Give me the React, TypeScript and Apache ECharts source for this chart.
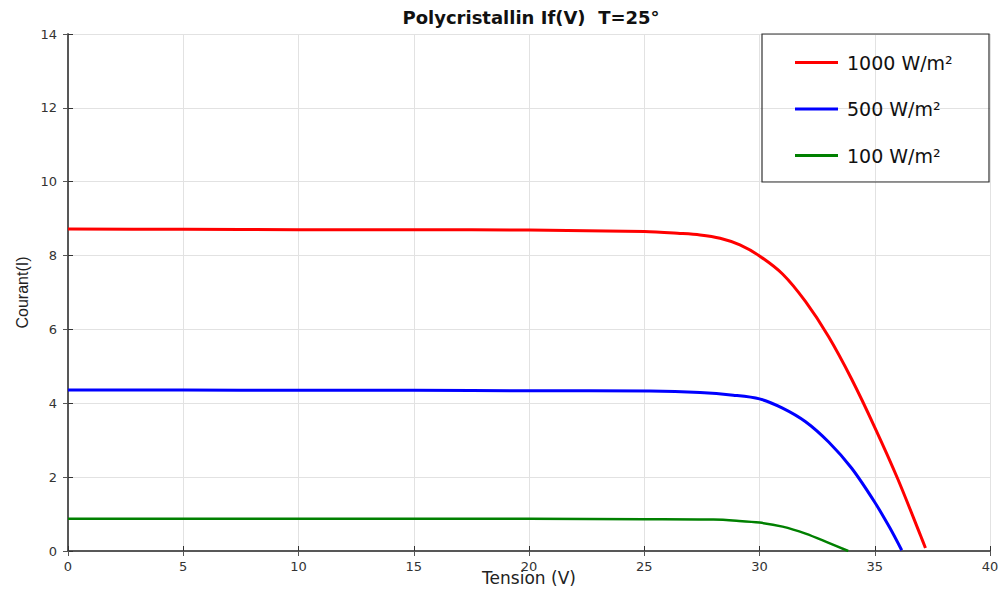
import React, { useEffect, useRef } from "react";
import * as echarts from "echarts";

const seriesNames = ["1000 W/m²", "500 W/m²", "100 W/m²"];
const seriesColors = ["#ff0000", "#0000ff", "#008000"];

const v1000 = [0, 5, 10, 15, 20, 25, 26.55, 27.42, 28.29, 29.15, 30, 31, 32, 33, 34, 35, 36, 37, 37.2];
const i1000 = [8.72, 8.71, 8.7, 8.7, 8.69, 8.65, 8.6, 8.56, 8.47, 8.29, 7.99, 7.5, 6.75, 5.8, 4.65, 3.35, 1.95, 0.4, 0.08];

const v500 = [0, 5, 10, 15, 20, 25.25, 27.42, 28.86, 30, 31, 32, 33, 34, 35, 35.66, 36.17];
const i500 = [4.36, 4.36, 4.35, 4.35, 4.34, 4.33, 4.29, 4.22, 4.12, 3.87, 3.5, 2.95, 2.24, 1.32, 0.62, 0.02];

const v100 = [0, 10, 20, 25, 28, 29, 30, 31, 32, 33, 33.85];
const i100 = [0.87, 0.87, 0.87, 0.86, 0.85, 0.82, 0.77, 0.66, 0.47, 0.22, 0.0];

const xTicks = { min: 0, max: 40, interval: 5 };
const yTicks = { min: 0, max: 14, interval: 2 };

const WIDE = "DejaVu Sans, Verdana, sans-serif";
const ARIAL = "Liberation Sans, Arial, sans-serif";

export default function App() {
  const ref = useRef<HTMLDivElement>(null);
  useEffect(() => {
    if (!ref.current) return;
    document.body.style.margin = "0";
    document.documentElement.style.overflow = "hidden";
    const chart = echarts.init(ref.current, undefined, { renderer: "svg" });
    const pairs = (xs: number[], ys: number[]) => xs.map((x, k) => [x, ys[k]]);
    const dataSets = [pairs(v1000, i1000), pairs(v500, i500), pairs(v100, i100)];
    const widths = [3, 3, 2.5];
    chart.setOption({
      animation: false,
      backgroundColor: "#ffffff",
      title: {
        text: "Polycristallin If(V)  T=25°",
        left: 526,
        textAlign: "center",
        top: 3,
        textStyle: { fontFamily: WIDE, fontSize: 18, fontWeight: "bold", color: "#111" },
      },
      grid: { left: 68, top: 34, width: 922, height: 517, outerBoundsMode: "none", containLabel: false },
      legend: {
        data: seriesNames,
        orient: "vertical",
        left: 790,
        top: 48,
        icon: "rect",
        itemWidth: 43,
        itemHeight: 3,
        itemGap: 27.5,
        textStyle: { fontFamily: WIDE, fontSize: 19, color: "#111", padding: [0, 0, 0, 4] },
      },
      graphic: [
        {
          type: "rect",
          shape: { x: 762, y: 34, width: 227, height: 148 },
          style: { fill: "none", stroke: "#333", lineWidth: 1.2 },
          z: 10,
        },
      ],
      xAxis: [
        {
          type: "value",
          ...xTicks,
          position: "bottom",
          name: "Tension (V)",
          nameLocation: "middle",
          nameGap: 18,
          nameMoveOverlap: false,
          nameTextStyle: { fontFamily: WIDE, fontSize: 17, lineHeight: 18, color: "#222" },
          axisLine: { lineStyle: { color: "#333", width: 1.5 } },
          axisTick: { inside: true, length: 5, lineStyle: { color: "#333" } },
          axisLabel: { fontFamily: WIDE, fontSize: 13, color: "#333", margin: 9 },
          splitLine: { show: true, lineStyle: { color: "#e2e2e2", width: 1 } },
        },
        {
          type: "value",
          ...xTicks,
          position: "top",
          axisLine: { lineStyle: { color: "#555", width: 1.5 } },
          axisTick: { inside: true, length: 5, lineStyle: { color: "#555" } },
          axisLabel: { show: false },
          splitLine: { show: false },
        },
      ],
      yAxis: [
        {
          type: "value",
          ...yTicks,
          position: "left",
          name: "Courant(I)",
          nameLocation: "middle",
          nameGap: 38,
          nameMoveOverlap: false,
          nameTextStyle: { fontFamily: ARIAL, fontSize: 16, color: "#222" },
          axisLine: { show: true, lineStyle: { color: "#333", width: 1.5 } },
          axisTick: { show: true, inside: true, length: 5, lineStyle: { color: "#333" } },
          axisLabel: { fontFamily: WIDE, fontSize: 13, color: "#333", margin: 11 },
          splitLine: { show: true, lineStyle: { color: "#e2e2e2", width: 1 } },
        },
        {
          type: "value",
          ...yTicks,
          position: "right",
          axisLine: { show: true, lineStyle: { color: "#555", width: 1.5 } },
          axisTick: { show: true, inside: true, length: 5, lineStyle: { color: "#555" } },
          axisLabel: { show: false },
          splitLine: { show: false },
        },
      ],
      series: seriesNames.map((name, k) => ({
        name,
        type: "line",
        data: dataSets[k],
        xAxisIndex: 0,
        yAxisIndex: 0,
        symbol: "none",
        smooth: 0.3,
        color: seriesColors[k],
        lineStyle: { color: seriesColors[k], width: widths[k] },
      })),
    });
    return () => chart.dispose();
  }, []);
  return <div ref={ref} style={{ width: 1000, height: 595 }} />;
}
